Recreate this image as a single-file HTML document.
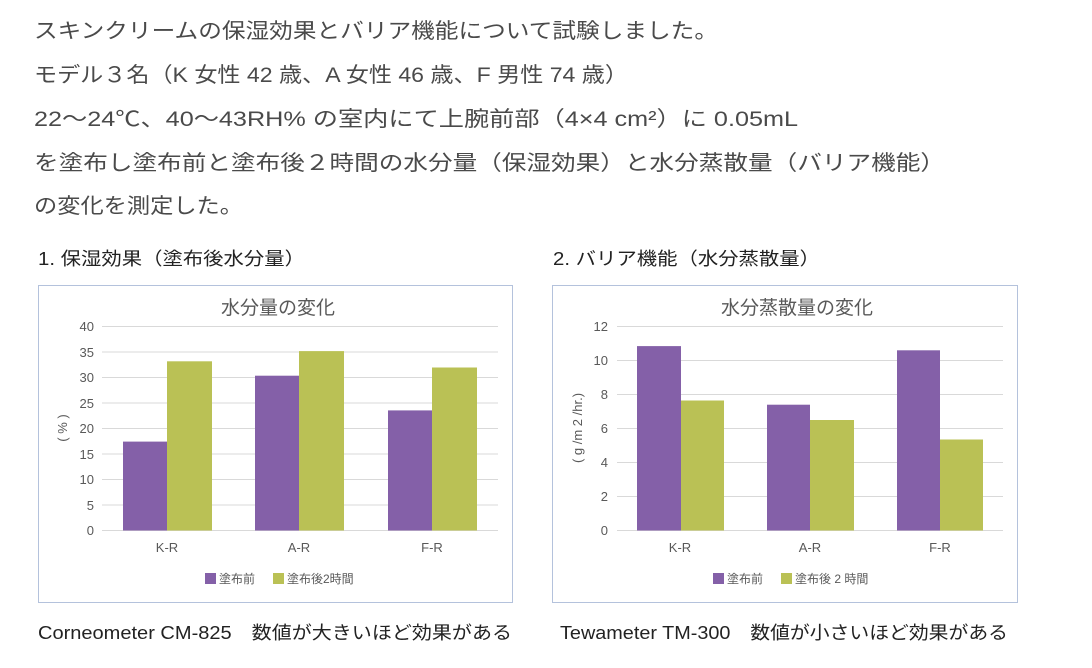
<!DOCTYPE html>
<html><head><meta charset="utf-8"><style>
html,body{margin:0;padding:0;background:#fff;}
svg{display:block;}
</style></head><body>
<svg width="1092" height="668" xmlns="http://www.w3.org/2000/svg" font-family="'Liberation Sans','Noto Sans CJK JP',sans-serif">
<g fill="#4a4a4a" font-size="21">
<text x="34" y="38" textLength="684" lengthAdjust="spacingAndGlyphs">スキンクリームの保湿効果とバリア機能について試験しました。</text>
<text x="34" y="82" textLength="594" lengthAdjust="spacingAndGlyphs">モデル３名（K 女性 42 歳、A 女性 46 歳、F 男性 74 歳）</text>
<text x="34" y="126" textLength="764" lengthAdjust="spacingAndGlyphs">22～24℃、40～43RH% の室内にて上腕前部（4×4 cm²）に 0.05mL</text>
<text x="34" y="170" textLength="911" lengthAdjust="spacingAndGlyphs">を塗布し塗布前と塗布後２時間の水分量（保湿効果）と水分蒸散量（バリア機能）</text>
<text x="34" y="213" textLength="209" lengthAdjust="spacingAndGlyphs">の変化を測定した。</text>
</g>
<g fill="#222" font-size="18">
<text x="38" y="265" textLength="267" lengthAdjust="spacingAndGlyphs">1. 保湿効果（塗布後水分量）</text>
<text x="553" y="265" textLength="267" lengthAdjust="spacingAndGlyphs">2. バリア機能（水分蒸散量）</text>
<text x="38" y="639" textLength="474" lengthAdjust="spacingAndGlyphs">Corneometer CM-825　数値が大きいほど効果がある</text>
<text x="560" y="639" textLength="448" lengthAdjust="spacingAndGlyphs">Tewameter TM-300　数値が小さいほど効果がある</text>
</g>

<!-- Chart 1 -->
<rect x="38.5" y="285.5" width="474" height="317" fill="#fff" stroke="#b4c2dc"/>
<text x="278" y="314" text-anchor="middle" font-size="19" fill="#595959">水分量の変化</text>
<g stroke="#d9d9d9" stroke-width="1">
<line x1="102" x2="498" y1="326.5" y2="326.5"/><line x1="102" x2="498" y1="352" y2="352"/>
<line x1="102" x2="498" y1="377.5" y2="377.5"/><line x1="102" x2="498" y1="403" y2="403"/>
<line x1="102" x2="498" y1="428.5" y2="428.5"/><line x1="102" x2="498" y1="454" y2="454"/>
<line x1="102" x2="498" y1="479.5" y2="479.5"/><line x1="102" x2="498" y1="505" y2="505"/>
<line x1="102" x2="498" y1="530.5" y2="530.5"/>
</g>
<g font-size="13" fill="#595959" text-anchor="end">
<text x="94" y="331">40</text><text x="94" y="357">35</text><text x="94" y="382">30</text>
<text x="94" y="408">25</text><text x="94" y="433">20</text><text x="94" y="459">15</text>
<text x="94" y="484">10</text><text x="94" y="510">5</text><text x="94" y="535">0</text>
</g>
<text transform="translate(67,428) rotate(-90)" text-anchor="middle" font-size="13" fill="#595959">( % )</text>
<g fill="#8460a8">
<rect x="123" y="441.6" width="44" height="88.9"/>
<rect x="255" y="375.7" width="44" height="154.8"/>
<rect x="388" y="410.4" width="44" height="120.1"/>
</g>
<g fill="#bac155">
<rect x="167" y="361.3" width="45" height="169.2"/>
<rect x="299" y="351.1" width="45" height="179.4"/>
<rect x="432" y="367.5" width="45" height="163"/>
</g>
<g font-size="13" fill="#595959" text-anchor="middle">
<text x="167" y="552">K-R</text><text x="299" y="552">A-R</text><text x="432" y="552">F-R</text>
</g>
<rect x="205" y="573" width="11" height="11" fill="#8460a8"/>
<text x="219" y="583" font-size="12" fill="#595959">塗布前</text>
<rect x="273" y="573" width="11" height="11" fill="#bac155"/>
<text x="287" y="583" font-size="12" fill="#595959">塗布後2時間</text>

<!-- Chart 2 -->
<rect x="552.5" y="285.5" width="465" height="317" fill="#fff" stroke="#b4c2dc"/>
<text x="797" y="314" text-anchor="middle" font-size="19" fill="#595959">水分蒸散量の変化</text>
<g stroke="#d9d9d9" stroke-width="1">
<line x1="617" x2="1003" y1="326.5" y2="326.5"/><line x1="617" x2="1003" y1="360.5" y2="360.5"/>
<line x1="617" x2="1003" y1="394.5" y2="394.5"/><line x1="617" x2="1003" y1="428.5" y2="428.5"/>
<line x1="617" x2="1003" y1="462.5" y2="462.5"/><line x1="617" x2="1003" y1="496.5" y2="496.5"/>
<line x1="617" x2="1003" y1="530.5" y2="530.5"/>
</g>
<g font-size="13" fill="#595959" text-anchor="end">
<text x="608" y="331">12</text><text x="608" y="365">10</text><text x="608" y="399">8</text>
<text x="608" y="433">6</text><text x="608" y="467">4</text><text x="608" y="501">2</text>
<text x="608" y="535">0</text>
</g>
<text transform="translate(582,428) rotate(-90)" text-anchor="middle" font-size="13" fill="#595959">( g /m 2 /hr.)</text>
<g fill="#8460a8">
<rect x="637" y="346.1" width="44" height="184.4"/>
<rect x="767" y="404.7" width="43" height="125.8"/>
<rect x="897" y="350.3" width="43" height="180.2"/>
</g>
<g fill="#bac155">
<rect x="681" y="400.5" width="43" height="130"/>
<rect x="810" y="420" width="44" height="110.5"/>
<rect x="940" y="439.5" width="43" height="91"/>
</g>
<g font-size="13" fill="#595959" text-anchor="middle">
<text x="680" y="552">K-R</text><text x="810" y="552">A-R</text><text x="940" y="552">F-R</text>
</g>
<rect x="713" y="573" width="11" height="11" fill="#8460a8"/>
<text x="727" y="583" font-size="12" fill="#595959">塗布前</text>
<rect x="781" y="573" width="11" height="11" fill="#bac155"/>
<text x="795" y="583" font-size="12" fill="#595959">塗布後 2 時間</text>
</svg>
</body></html>
